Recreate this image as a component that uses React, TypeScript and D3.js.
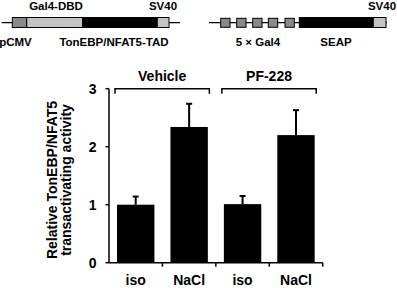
import React from "react";
import * as d3 from "d3";

const categories = ["iso", "NaCl", "iso", "NaCl"];
const values = [1.0, 2.34, 1.01, 2.2];
const errors = [0.14, 0.4, 0.14, 0.43];
const groupLabels = ["Vehicle", "PF-228"];
const groupBands = [[0, 1], [2, 3]];
const yTicks = [0, 1, 2, 3];
const yLabel = ["Relative TonEBP/NFAT5", "transactivating activity"];

// schematic constructs: segment start/end along the plasmid (units = px in diagram scale)
const construct1 = [
  { start: 12.3, end: 26.7, fill: "#8a8a8a" },
  { start: 26.7, end: 82.7, fill: "#c4c4c4" },
  { start: 82.7, end: 157.3, fill: "#000" },
  { start: 157.3, end: 169, fill: "#c4c4c4" },
];
const construct1Line = [1.7, 180];
const construct1Labels = [
  { text: "Gal4-DBD", x: 56, row: 0 },
  { text: "SV40", x: 163, row: 0 },
  { text: "pCMV", x: 15.5, row: 1 },
  { text: "TonEBP/NFAT5-TAD", x: 114, row: 1 },
];
const construct2 = [
  { start: 220.7, end: 230, fill: "#8a8a8a", small: true },
  { start: 236.7, end: 246, fill: "#8a8a8a", small: true },
  { start: 252.7, end: 262, fill: "#8a8a8a", small: true },
  { start: 268.3, end: 277.7, fill: "#8a8a8a", small: true },
  { start: 285, end: 294.3, fill: "#8a8a8a", small: true },
  { start: 299.3, end: 373.3, fill: "#000", small: false },
  { start: 373.3, end: 386, fill: "#c4c4c4", small: false },
];
const construct2Line = [209, 387];
const construct2Labels = [
  { text: "SV40", x: 382, row: 0 },
  { text: "5 × Gal4", x: 258, row: 1 },
  { text: "SEAP", x: 336, row: 1 },
];

const W = 397;
const H = 288;
const FONT = "'Liberation Sans', Arial, sans-serif";

export default function App() {
  const x = d3.scaleBand<number>().domain(d3.range(categories.length)).range([109, 322.7]).paddingInner(0.3).paddingOuter(0.15);
  const y = d3.scaleLinear().domain([0, 3]).range([262.7, 88.7]);
  const dx = d3.scaleLinear().domain([0, 397]).range([0, 397]);
  const step = x.step();
  const bandStart = (i: number) => 109 + i * step;

  const lineY = 22.7;
  const rowY = [10, 46];

  const renderConstruct = (segs: any[], line: number[], labels: any[]) => (
    <g>
      <line x1={dx(line[0])} x2={dx(line[1])} y1={lineY} y2={lineY} stroke="#000" strokeWidth={1.2} />
      {segs.map((s, i) => (
        <rect
          key={i}
          x={dx(s.start)}
          width={dx(s.end) - dx(s.start)}
          y={s.small ? 18.3 : 17.5}
          height={s.small ? 9 : 10}
          fill={s.fill}
          stroke="#000"
          strokeWidth={1}
        />
      ))}
      {labels.map((l, i) => (
        <text key={i} x={dx(l.x)} y={rowY[l.row]} textAnchor="middle" fontSize={11.5} fontWeight="bold" fontFamily={FONT}>
          {l.text}
        </text>
      ))}
    </g>
  );

  return (
    <div style={{ position: "absolute", left: 0, top: 0 }}>
      <svg width={W} height={H} style={{ display: "block", background: "#fff" }}>
        {renderConstruct(construct1, construct1Line, construct1Labels)}
        {renderConstruct(construct2, construct2Line, construct2Labels)}

        {/* bars */}
        {values.map((v, i) => {
          const bx = x(i)!;
          const bw = x.bandwidth();
          const cx = bx + bw / 2;
          return (
            <g key={i}>
              <rect x={bx} y={y(v)} width={bw} height={y(0) - y(v)} fill="#000" />
              <line x1={cx} x2={cx} y1={y(v)} y2={y(v + errors[i])} stroke="#000" strokeWidth={2} />
              <line x1={cx - 3} x2={cx + 3} y1={y(v + errors[i])} y2={y(v + errors[i])} stroke="#000" strokeWidth={2} />
            </g>
          );
        })}

        {/* y axis */}
        <line x1={109} x2={109} y1={y(3)} y2={y(0)} stroke="#000" strokeWidth={1.5} />
        {yTicks.map((t) => (
          <g key={t}>
            <line x1={105.5} x2={109} y1={y(t)} y2={y(t)} stroke="#000" strokeWidth={1.5} />
            <text x={96.5} y={y(t)} dy="0.36em" textAnchor="end" fontSize={14} fontWeight="bold" fontFamily={FONT}>
              {t}
            </text>
          </g>
        ))}

        {/* x axis */}
        <line x1={109} x2={322.7} y1={y(0)} y2={y(0)} stroke="#000" strokeWidth={1.5} />
        {d3.range(1, categories.length + 1).map((i) => (
          <line key={i} x1={bandStart(i)} x2={bandStart(i)} y1={y(0)} y2={y(0) + 4} stroke="#000" strokeWidth={1.5} />
        ))}
        {categories.map((c, i) => (
          <text key={i} x={x(i)! + x.bandwidth() / 2} y={284.5} textAnchor="middle" fontSize={14} fontWeight="bold" fontFamily={FONT}>
            {c}
          </text>
        ))}

        {/* group brackets */}
        {groupLabels.map((g, gi) => {
          const x0 = bandStart(groupBands[gi][0]) + 6;
          const x1 = bandStart(groupBands[gi][1] + 1) - 6.5;
          const by = 88.7;
          return (
            <g key={g}>
              <path d={`M${x0},${by + 5}V${by}H${x1}V${by + 5}`} fill="none" stroke="#000" strokeWidth={1.5} />
              <text x={(x0 + x1) / 2} y={80.5} textAnchor="middle" fontSize={14} fontWeight="bold" fontFamily={FONT}>
                {g}
              </text>
            </g>
          );
        })}

        {/* y label */}
        <g transform={`translate(0,180) rotate(-90)`}>
          <text x={0} y={57} textAnchor="middle" fontSize={14} fontWeight="bold" fontFamily={FONT}>
            {yLabel[0]}
          </text>
          <text x={0} y={70.5} textAnchor="middle" fontSize={14} fontWeight="bold" fontFamily={FONT}>
            {yLabel[1]}
          </text>
        </g>
      </svg>
    </div>
  );
}
